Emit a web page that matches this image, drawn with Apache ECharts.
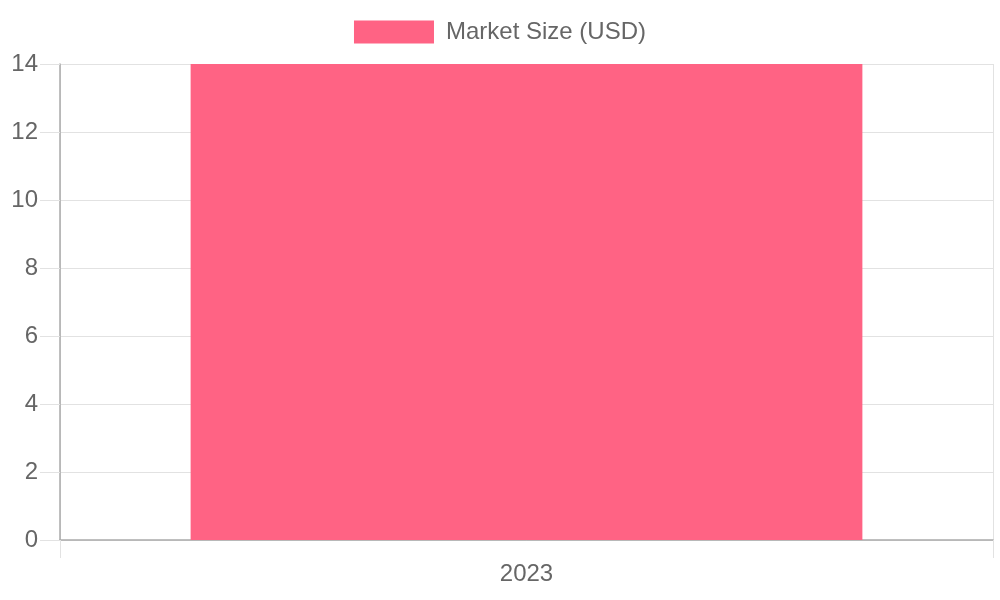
<!DOCTYPE html>
<html>
<head>
<meta charset="utf-8">
<script src="https://cdn.jsdelivr.net/npm/echarts@6/dist/echarts.min.js"></script>
<style>
html,body{margin:0;padding:0;background:#fff;}
#chart{width:1000px;height:600px;}
</style>
</head>
<body>
<div id="chart"></div>
<script>
// data
var years = ['2023'];
var marketSize = [14];
var seriesName = 'Market Size (USD)';

var myChart = echarts.init(document.getElementById('chart'));
var font = '"Liberation Sans", Arial, sans-serif';

var option = {
  animation: false,
  backgroundColor: '#fff',
  textStyle: {fontFamily: font},
  legend: {
    top: 15,
    left: 'center',
    itemWidth: 80,
    itemHeight: 23,
    icon: 'rect',
    textStyle: {color: '#666', fontSize: 24, fontFamily: font, padding: [0, 0, 0, 7]},
    data: [seriesName]
  },
  grid: {left: 60, right: 7, top: 64, bottom: 60, containLabel: false},
  xAxis: {
    type: 'category',
    data: years,
    boundaryGap: true,
    axisLine: {show: true, lineStyle: {color: '#aaa', width: 1.5}},
    axisTick: {show: true, length: 18, lineStyle: {color: '#e2e2e2'}},
    splitLine: {show: true, lineStyle: {color: '#e2e2e2'}},
    axisLabel: {color: '#666', fontSize: 24, margin: 22, fontFamily: font}
  },
  yAxis: {
    type: 'value',
    min: 0,
    max: 14,
    interval: 2,
    axisLine: {show: true, lineStyle: {color: '#aaa', width: 1.5}},
    axisTick: {show: true, length: 20, lineStyle: {color: '#e2e2e2'}},
    splitLine: {show: true, lineStyle: {color: '#e2e2e2'}},
    axisLabel: {color: '#666', fontSize: 24, margin: 22, fontFamily: font}
  },
  series: [{
    name: seriesName,
    type: 'bar',
    data: marketSize,
    barWidth: '72%',
    itemStyle: {color: '#FF6384'}
  }]
};
myChart.setOption(option);
</script>
</body>
</html>
